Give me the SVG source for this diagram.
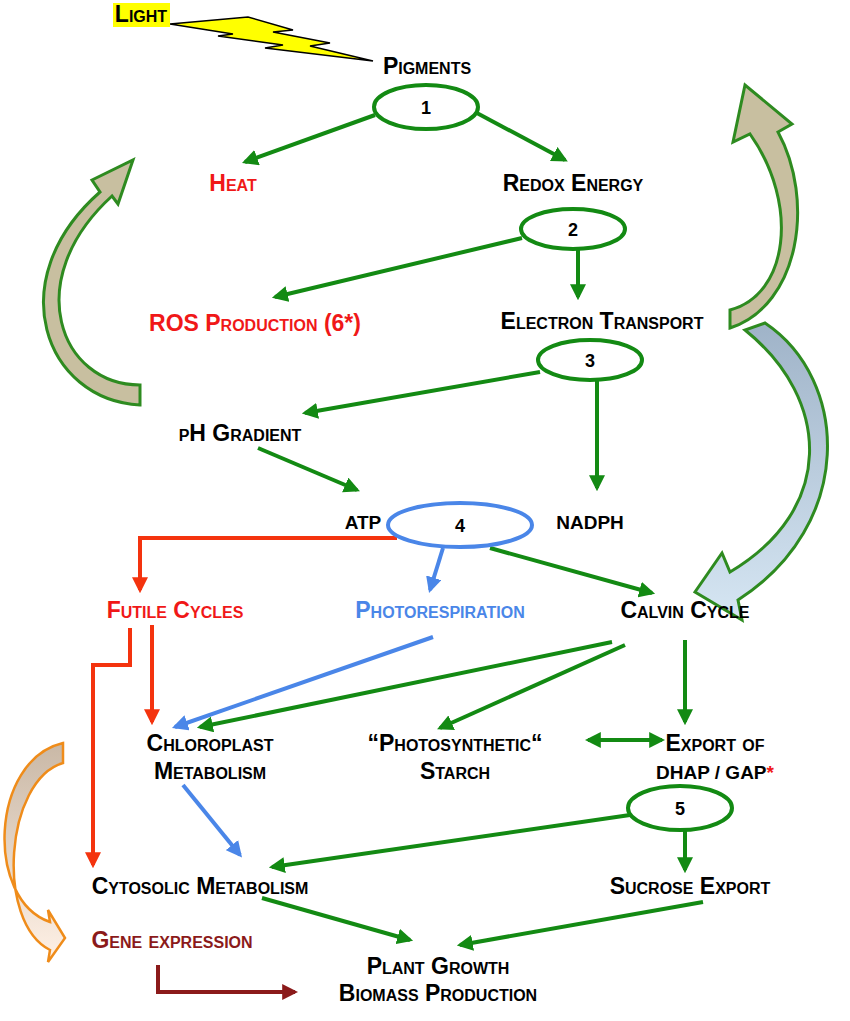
<svg xmlns="http://www.w3.org/2000/svg" width="850" height="1021" viewBox="0 0 850 1021">
<defs>
<style>
text{font-family:"Liberation Sans",Arial,sans-serif;font-weight:bold;font-size:23px;font-variant:small-caps;text-anchor:middle}
.k{fill:#000}.r{fill:#f01818}.b{fill:#4a86e8}.d{fill:#8b1a1a}
.g{stroke:#138a13;stroke-width:4;fill:none}
.bl{stroke:#4a86e8;stroke-width:4;fill:none}
.rd{stroke:#f4330e;stroke-width:4;fill:none}
.dr{stroke:#8b1a1a;stroke-width:4;fill:none}
.el{fill:#fff;stroke:#138a13;stroke-width:4}
.num{font-variant:normal;font-size:18px}
.n{font-variant:normal;font-size:19px}
</style>
<marker id="mg" viewBox="0 0 10 10" refX="8" refY="5" markerWidth="4" markerHeight="4" orient="auto-start-reverse"><path d="M0,0L10,5L0,10Z" fill="#138a13"/></marker>
<marker id="mb" viewBox="0 0 10 10" refX="8" refY="5" markerWidth="4" markerHeight="4" orient="auto"><path d="M0,0L10,5L0,10Z" fill="#4a86e8"/></marker>
<marker id="mr" viewBox="0 0 10 10" refX="8" refY="5" markerWidth="4" markerHeight="4" orient="auto"><path d="M0,0L10,5L0,10Z" fill="#f4330e"/></marker>
<marker id="md" viewBox="0 0 10 10" refX="8" refY="5" markerWidth="4" markerHeight="4" orient="auto"><path d="M0,0L10,5L0,10Z" fill="#8b1a1a"/></marker>
<linearGradient id="bg" x1="0" y1="0" x2="0" y2="1"><stop offset="0" stop-color="#9fb3c8"/><stop offset="1" stop-color="#d6e6f3"/></linearGradient>
<linearGradient id="og" x1="0" y1="0" x2="0" y2="1"><stop offset="0" stop-color="#c9b8a6"/><stop offset="1" stop-color="#fff1e6"/></linearGradient>
</defs>

<g id="big-arrows" stroke-width="3">
<path d="M140,405 C45,400 0,280 100,192 L92,180 L133,160 L118,204 L112,196 C20,280 60,385 140,385 Z" fill="#c8bfa0" stroke="#2e8b20"/>
<path d="M730,328 C800,305 815,200 778,132 L792,124 L745,85 L733,142 L750,134 C800,205 788,295 730,310 Z" fill="#c8bfa0" stroke="#2e8b20"/>
<path d="M765,323 C850,380 855,525 738,600 L742,620 L695,592 L722,553 L730,572 C835,510 832,400 745,330 Z" fill="url(#bg)" stroke="#2e8b20"/>
<path d="M63,743 C-10,760 -15,900 50,922 L48,910 L65,938 L48,962 L50,950 C-5,922 5,780 63,763 Z" fill="url(#og)" stroke="#ef8c1a" stroke-width="2.5"/>
<polygon points="170,24 248,17 293,30 273,32 330,43 310,46 373,61 265,48 283,45 218,36 233,34" fill="#ffff00" stroke="#000" stroke-width="1.5"/>
</g>

<g id="connectors">
<line class="g" x1="375" y1="115" x2="245" y2="162" marker-end="url(#mg)"/>
<line class="g" x1="475" y1="112" x2="565" y2="160" marker-end="url(#mg)"/>
<line class="g" x1="522" y1="238" x2="275" y2="297" marker-end="url(#mg)"/>
<line class="g" x1="578" y1="250" x2="578" y2="297" marker-end="url(#mg)"/>
<line class="g" x1="540" y1="372" x2="305" y2="413" marker-end="url(#mg)"/>
<line class="g" x1="597" y1="380" x2="597" y2="488" marker-end="url(#mg)"/>
<line class="g" x1="258" y1="448" x2="357" y2="490" marker-end="url(#mg)"/>
<line class="g" x1="490" y1="548" x2="652" y2="593" marker-end="url(#mg)"/>
<line class="bl" x1="443" y1="548" x2="430" y2="590" marker-end="url(#mb)"/>
<path class="rd" d="M397,538 H140 V590" marker-end="url(#mr)"/>
<path class="rd" d="M130,628 V665 H93 V865" marker-end="url(#mr)"/>
<line class="rd" x1="152" y1="625" x2="152" y2="722" marker-end="url(#mr)"/>
<line class="bl" x1="433" y1="637" x2="175" y2="727" marker-end="url(#mb)"/>
<line class="g" x1="612" y1="642" x2="200" y2="727" marker-end="url(#mg)"/>
<line class="g" x1="625" y1="645" x2="440" y2="728" marker-end="url(#mg)"/>
<line class="g" x1="685" y1="640" x2="685" y2="722" marker-end="url(#mg)"/>
<line class="g" x1="588" y1="740" x2="662" y2="740" marker-start="url(#mg)" marker-end="url(#mg)"/>
<line class="bl" x1="183" y1="785" x2="240" y2="855" marker-end="url(#mb)"/>
<line class="g" x1="630" y1="815" x2="272" y2="867" marker-end="url(#mg)"/>
<line class="g" x1="685" y1="830" x2="685" y2="870" marker-end="url(#mg)"/>
<line class="g" x1="262" y1="898" x2="410" y2="940" marker-end="url(#mg)"/>
<line class="g" x1="703" y1="902" x2="460" y2="945" marker-end="url(#mg)"/>
<path class="dr" d="M158,965 V992 H295" marker-end="url(#md)"/>
</g>

<g id="light"><rect x="113" y="3" width="57" height="24" fill="#ffff00"/><text class="k" x="141" y="22">Light</text></g>
<g id="pigments"><text class="k" x="427" y="74">Pigments</text></g>
<g id="e1"><ellipse class="el" cx="426" cy="107" rx="52" ry="22"/><text class="k num" x="426" y="114">1</text></g>
<g id="heat"><text class="r" x="233" y="191">Heat</text></g>
<g id="redox"><text class="k" x="573" y="191">Redox Energy</text></g>
<g id="e2"><ellipse class="el" cx="573" cy="229" rx="52" ry="20"/><text class="k num" x="573" y="236">2</text></g>
<g id="ros"><text class="r" x="255" y="331">ROS Production (6*)</text></g>
<g id="et"><text class="k" x="602" y="329">Electron Transport</text></g>
<g id="e3"><ellipse class="el" cx="590" cy="360" rx="52" ry="20"/><text class="k num" x="590" y="367">3</text></g>
<g id="ph"><text class="k" x="240" y="441">pH Gradient</text></g>
<g id="atp"><text class="k n" x="363" y="529">ATP</text></g>
<g id="nadph"><text class="k n" x="590" y="529">NADPH</text></g>
<g id="e4"><ellipse cx="460" cy="525" rx="72" ry="22" fill="#fff" stroke="#4a86e8" stroke-width="4"/><text class="k num" x="460" y="532">4</text></g>
<g id="futile"><text class="r" x="175" y="618">Futile Cycles</text></g>
<g id="photoresp"><text class="b" x="440" y="618">Photorespiration</text></g>
<g id="calvin"><text class="k" x="685" y="618">Calvin Cycle</text></g>
<g id="chloro"><text class="k" x="210" y="751">Chloroplast</text><text class="k" x="210" y="779">Metabolism</text></g>
<g id="starch"><text class="k" x="455" y="751">“Photosynthetic“</text><text class="k" x="455" y="779">Starch</text></g>
<g id="export"><text class="k" x="715" y="751">Export of</text><text class="k n" x="715" y="779">DHAP / GAP<tspan class="r">*</tspan></text></g>
<g id="e5"><ellipse class="el" cx="680" cy="808" rx="52" ry="22"/><text class="k num" x="680" y="815">5</text></g>
<g id="cyto"><text class="k" x="200" y="894">Cytosolic Metabolism</text></g>
<g id="sucrose"><text class="k" x="690" y="894">Sucrose Export</text></g>
<g id="gene"><text class="d" x="172" y="948">Gene expression</text></g>
<g id="plant"><text class="k" x="438" y="974">Plant Growth</text><text class="k" x="438" y="1001">Biomass Production</text></g>
</svg>
